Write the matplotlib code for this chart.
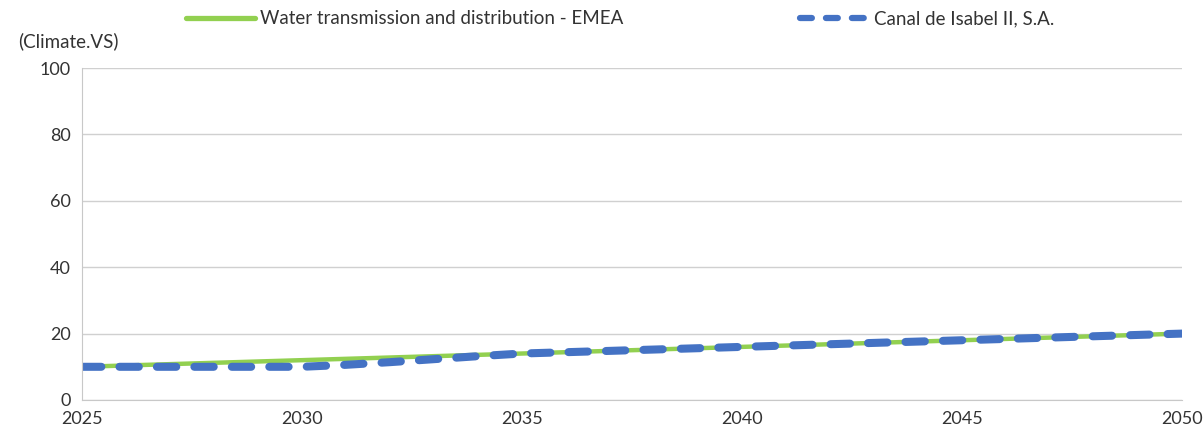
import matplotlib
matplotlib.use("Agg")
import matplotlib.pyplot as plt
from matplotlib.lines import Line2D

plt.rcParams["font.family"] = ["Lato", "DejaVu Sans"]

years = list(range(2025, 2051))
sector = [10.0, 10.4, 10.8, 11.2, 11.6, 12.0, 12.4, 12.8, 13.2, 13.6, 14.0,
          14.4, 14.8, 15.2, 15.6, 16.0, 16.4, 16.8, 17.2, 17.6, 18.0,
          18.4, 18.8, 19.2, 19.6, 20.0]
company = [10.0, 10.0, 10.0, 10.0, 10.0, 10.0, 10.6, 11.4, 12.3, 13.2, 14.0,
           14.4, 14.8, 15.2, 15.6, 16.0, 16.4, 16.8, 17.2, 17.6, 18.0,
           18.4, 18.8, 19.2, 19.6, 20.0]
labels = ["Water transmission and distribution - EMEA", "Canal de Isabel II, S.A."]
y_ticks = [0, 20, 40, 60, 80, 100]
x_ticks = [2025, 2030, 2035, 2040, 2045, 2050]

GREEN = "#92d050"
BLUE = "#4472c4"
TXT = "#333333"

fig = plt.figure(figsize=(12.04, 4.38), dpi=100)
ax = fig.add_axes([82 / 1204, 38 / 438, 1100 / 1204, 332 / 438])

ax.plot(years, sector, color=GREEN, lw=3.2, solid_capstyle="round")
ax.plot(years, company, color=BLUE, lw=5.8, dashes=(2.4, 2.25), dash_capstyle="round")

ax.set_xlim(2025, 2050)
ax.set_ylim(0, 100)
ax.set_xticks(x_ticks)
ax.set_yticks(y_ticks)
ax.tick_params(length=0, labelsize=13, colors=TXT, pad=8)
ax.grid(axis="y", color="#d0d0d0", lw=1)
ax.set_axisbelow(True)
for s in ["top", "right"]:
    ax.spines[s].set_visible(False)
ax.spines["left"].set_color("#c8c8c8")
ax.spines["bottom"].set_color("#c8c8c8")

fig.text(18 / 1204, 1 - 41 / 438, "(Climate.VS)", fontsize=13.5, color=TXT, va="center")

handles = [
    Line2D([], [], color=GREEN, lw=3.8, solid_capstyle="round"),
    Line2D([], [], color=BLUE, lw=4.5, dashes=(1.9, 2.25), dash_capstyle="round"),
]
leg = fig.legend(handles, labels, loc="center left", bbox_to_anchor=(186 / 1204, 1 - 19 / 438),
                 ncol=2, frameon=False, fontsize=13.5, handlelength=3.7, handletextpad=0.27,
                 columnspacing=9.4, borderaxespad=0, borderpad=0)
for t in leg.get_texts():
    t.set_color(TXT)

fig.savefig("out.png", dpi=100)
